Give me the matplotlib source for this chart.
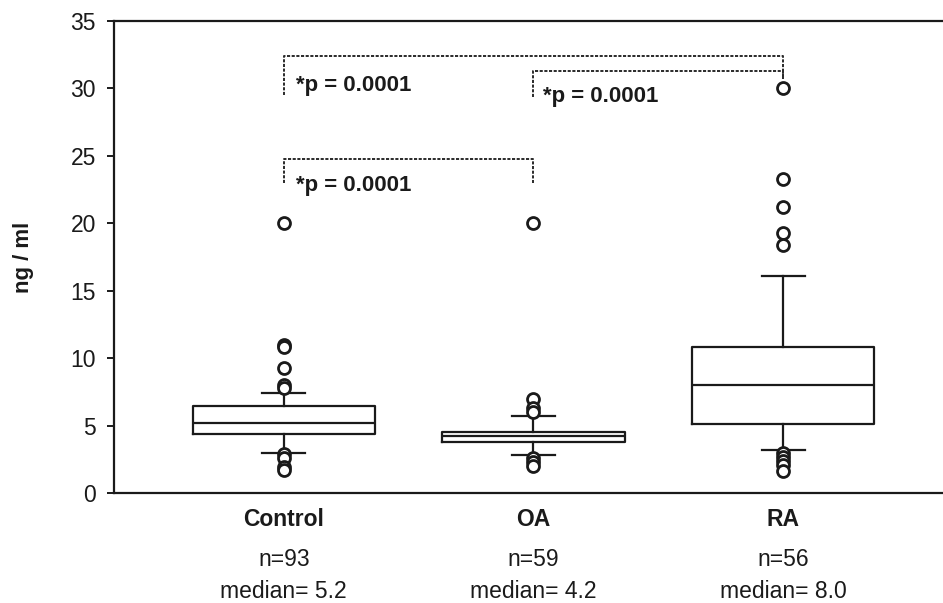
import matplotlib
matplotlib.use("Agg")
import matplotlib.pyplot as plt

plt.rcParams['font.family'] = ['Liberation Sans', 'DejaVu Sans']

categories = ["Control", "OA", "RA"]
n_labels = ["n=93", "n=59", "n=56"]
median_labels = ["median= 5.2", "median= 4.2", "median= 8.0"]

medians = [5.2, 4.2, 8.0]
q1 = [4.35, 3.76, 5.1]
q3 = [6.45, 4.55, 10.8]
whisker_low = [3.0, 2.8, 3.2]
whisker_high = [7.45, 5.7, 16.1]
fliers = [
    [20.0, 11.0, 10.8, 9.3, 8.0, 7.8, 2.9, 2.6, 1.9, 1.7],
    [20.0, 7.0, 6.3, 6.0, 2.6, 2.3, 2.0],
    [30.0, 23.3, 21.2, 19.3, 18.4, 3.0, 2.7, 2.4, 2.1, 1.6],
]

# significance brackets: (x_left, x_right, y_top, y_left_end, y_right_end)
brackets = [
    (1, 3, 32.4, 29.5, 30.7),
    (2, 3, 31.3, 29.4, 30.7),
    (1, 2, 24.8, 23.0, 23.0),
]
p_labels = ["*p = 0.0001", "*p = 0.0001", "*p = 0.0001"]
p_pos = [(1.05, 29.8), (2.04, 29.0), (1.05, 22.4)]

fig = plt.figure(figsize=(9.43, 6.03), dpi=100)
ax = fig.add_axes([0.1209, 0.1824, 0.8791, 0.7828])

stats = []
for i in range(3):
    stats.append(dict(med=medians[i], q1=q1[i], q3=q3[i],
                      whislo=whisker_low[i], whishi=whisker_high[i],
                      fliers=fliers[i], label=categories[i]))

lw = 1.6
ax.bxp(stats, positions=[1, 2, 3], widths=0.73, capwidths=0.172,
       boxprops=dict(color='#1a1a1a', linewidth=lw),
       medianprops=dict(color='#1a1a1a', linewidth=lw),
       whiskerprops=dict(color='#1a1a1a', linewidth=lw),
       capprops=dict(color='#1a1a1a', linewidth=lw),
       flierprops=dict(marker='o', markerfacecolor='white', markeredgecolor='#1a1a1a',
                       markersize=8.6, markeredgewidth=2.0))

for (xl, xr, yt, yl, yr) in brackets:
    ax.plot([xl, xl, xr, xr], [yl, yt, yt, yr], color='#2a2a2a', linewidth=1.4,
            linestyle=(0, (1.6, 0.8)), solid_capstyle='butt')

for lab, (x, y) in zip(p_labels, p_pos):
    ax.text(x, y, lab, fontsize=16, fontweight='bold', ha='left', va='baseline',
            color='#1a1a1a')

ax.set_xlim(0.32, 3.64)
ax.set_ylim(0, 35)
ax.set_yticks([0, 5, 10, 15, 20, 25, 30, 35])
ax.tick_params(axis='y', labelsize=16.5, length=5, width=1.4, direction='out',
               colors='#1a1a1a', pad=8)
ax.set_xticks([])
for s in ['left', 'top', 'bottom']:
    ax.spines[s].set_linewidth(1.6)
    ax.spines[s].set_color('#1a1a1a')
ax.spines['right'].set_visible(False)

tr = ax.get_xaxis_transform()
for i, pos in enumerate([1, 2, 3]):
    ax.text(pos, -0.057, categories[i], transform=tr, ha='center', va='center',
            fontsize=16.5, fontweight='bold', color='#1a1a1a')
    ax.text(pos, -0.140, n_labels[i], transform=tr, ha='center', va='center',
            fontsize=16.5, color='#1a1a1a')
    ax.text(pos, -0.209, median_labels[i], transform=tr, ha='center', va='center',
            fontsize=16.5, color='#1a1a1a')

ax.text(-0.1086, 0.50, "ng / ml", transform=ax.transAxes, rotation=90,
        ha='center', va='center', fontsize=16, fontweight='bold', color='#1a1a1a')

fig.savefig("out.png", dpi=100)
